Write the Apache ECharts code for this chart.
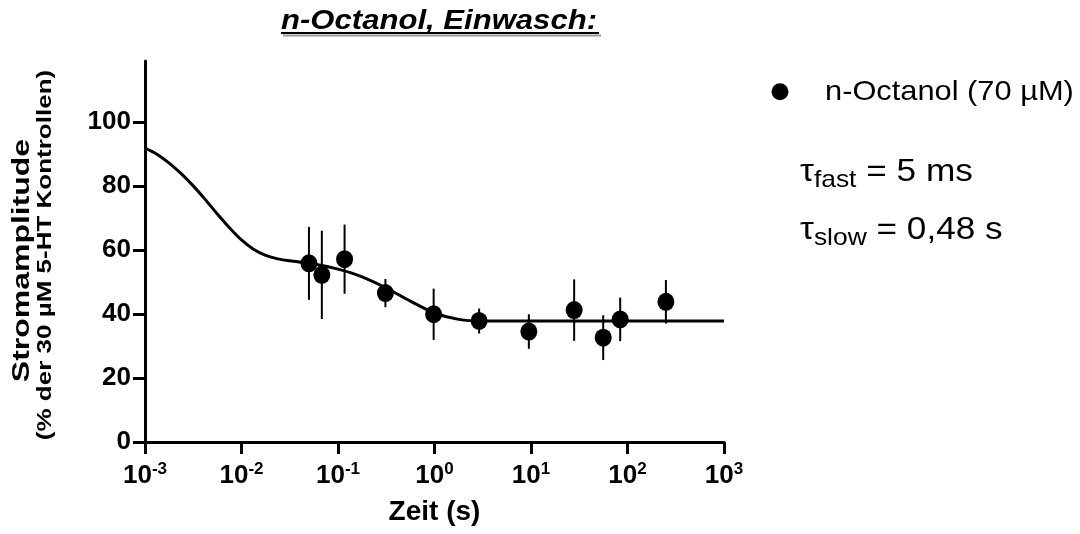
<!DOCTYPE html>
<html>
<head>
<meta charset="utf-8">
<script src="https://cdn.jsdelivr.net/npm/echarts@6/dist/echarts.min.js"></script>
<style>
  html, body { margin: 0; padding: 0; background: #fff; }
  #chart { width: 1080px; height: 534px; }
</style>
</head>
<body>
<div id="chart"></div>
<script>
// n-Octanol wash-in: normalized current amplitude (mean ± SEM) over time
const timeS     = [0.05, 0.068, 0.117, 0.31, 0.98, 2.9, 9.5, 28, 56, 84, 250];
const amplitude = [55.8, 52.2, 57.1, 46.5, 39.9, 37.8, 34.5, 41.2, 32.6, 38.3, 43.8];
const sem       = [11.4, 13.8, 10.8, 4.4, 8.0, 3.9, 5.4, 9.6, 7.0, 6.8, 6.8];

// Biexponential fit curve, sampled along the time axis
const fitTime  = [0.001, 0.00133, 0.00178, 0.00237, 0.00316, 0.00422, 0.00562, 0.0075, 0.01,
                  0.0133, 0.0178, 0.0237, 0.0316, 0.0562, 0.1, 0.178, 0.316, 0.562, 1,
                  1.78, 3.16, 10, 100, 1000];
const fitValue = [91.8, 89.9, 87.1, 83.8, 80.0, 75.7, 71.2, 66.9, 63.1,
                  60.2, 58.3, 57.2, 56.6, 55.6, 54.0, 51.6, 48.1, 44.0, 40.3,
                  38.3, 37.8, 37.8, 37.8, 37.8];

// Axis ticks
const yTicks = [0, 20, 40, 60, 80, 100];
const xMin = 0.001, xMax = 1000, yMin = 0, yMax = 119;

const FONT = '"Liberation Sans", Arial, Helvetica, sans-serif';

const chart = echarts.init(document.getElementById('chart'), null, { renderer: 'canvas' });

function txt(opts) {
  const s = Object.assign({
    fill: '#000',
    fontFamily: FONT,
    align: 'left', textAlign: 'left',
    verticalAlign: 'middle', textVerticalAlign: 'middle'
  }, opts.style);
  return {
    type: 'text', x: opts.x, y: opts.y,
    rotation: opts.rotation || 0,
    scaleX: opts.scaleX || 1, scaleY: opts.scaleY || 1,
    silent: true, style: s
  };
}

const tauRich = {
  t: { fontSize: 32, lineHeight: 40, fontFamily: FONT },
  s: { fontSize: 24, lineHeight: 20, verticalAlign: 'bottom', fontFamily: FONT },
  m: { fontSize: 32, lineHeight: 40, fontFamily: FONT }
};

const option = {
  animation: false,
  backgroundColor: '#fff',
  grid: {
    left: 145, right: 356, top: 61, bottom: 92,
    containLabel: false, outerBoundsMode: 'none'
  },
  xAxis: {
    type: 'log', logBase: 10, min: xMin, max: xMax,
    name: 'Zeit (s)', nameLocation: 'middle', nameGap: 56,
    nameTextStyle: { fontSize: 28, fontWeight: 'bold', color: '#000', fontFamily: FONT },
    axisLine: { show: true, onZero: false, lineStyle: { color: '#000', width: 3 } },
    axisTick: { show: true, length: 12, lineStyle: { color: '#000', width: 3 } },
    minorTick: { show: false },
    splitLine: { show: false },
    minorSplitLine: { show: false },
    axisLabel: {
      margin: 19, color: '#000', showMinLabel: true, showMaxLabel: true,
      formatter: v => '{b|10}{s|' + Math.round(Math.log10(v)) + '}',
      rich: {
        b: { fontSize: 26, fontWeight: 'bold', lineHeight: 29, color: '#000', fontFamily: FONT },
        s: { fontSize: 17, fontWeight: 'bold', lineHeight: 17, verticalAlign: 'top', color: '#000', fontFamily: FONT }
      }
    }
  },
  yAxis: {
    type: 'value', min: yMin, max: yMax,
    axisLine: { show: true, onZero: false, lineStyle: { color: '#000', width: 3 } },
    axisTick: { show: true, length: 12, lineStyle: { color: '#000', width: 3 }, customValues: yTicks },
    splitLine: { show: false },
    axisLabel: {
      margin: 14, color: '#000', fontSize: 26, fontWeight: 'bold', fontFamily: FONT,
      customValues: yTicks
    }
  },
  series: [
    {
      name: 'fit',
      type: 'line',
      data: fitTime.map((t, i) => [t, fitValue[i]]),
      showSymbol: false,
      smooth: 0.3,
      lineStyle: { color: '#000', width: 3 },
      z: 2, silent: true
    },
    {
      name: 'SEM',
      type: 'custom',
      data: timeS.map((t, i) => [t, amplitude[i] - sem[i], amplitude[i] + sem[i]]),
      renderItem: (params, api) => {
        const lo = api.coord([api.value(0), api.value(1)]);
        const hi = api.coord([api.value(0), api.value(2)]);
        return {
          type: 'line',
          shape: { x1: lo[0], y1: lo[1], x2: hi[0], y2: hi[1] },
          style: { stroke: '#000', lineWidth: 2 }
        };
      },
      z: 3, silent: true
    },
    {
      name: 'n-Octanol (70 µM)',
      type: 'scatter',
      data: timeS.map((t, i) => [t, amplitude[i]]),
      symbol: 'circle',
      symbolSize: [17, 18],
      itemStyle: { color: '#000', opacity: 1 },
      z: 4
    }
  ],
  graphic: [
    // title with shadowed underline
    { type: 'line', silent: true, shape: { x1: 283, y1: 35.5, x2: 601, y2: 35.5 }, style: { stroke: '#9a9a9a', lineWidth: 2 } },
    { type: 'line', silent: true, shape: { x1: 281, y1: 33, x2: 599, y2: 33 }, style: { stroke: '#000', lineWidth: 2 } },
    txt({ x: 281, y: 21.5, scaleX: 1.11,
          style: { text: 'n-Octanol, Einwasch:', fontSize: 28, fontWeight: 'bold', fontStyle: 'italic' } }),

    // y-axis title (two lines, rotated)
    txt({ x: 23, y: 260.5, rotation: Math.PI / 2, scaleX: 1.36,
          style: { text: 'Stromamplitude', fontSize: 23.5, fontWeight: 'bold', align: 'center', textAlign: 'center' } }),
    txt({ x: 45, y: 255, rotation: Math.PI / 2, scaleX: 1.3,
          style: { text: '(% der 30 µM 5-HT Kontrollen)', fontSize: 20, fontWeight: 'bold', align: 'center', textAlign: 'center' } }),

    // legend
    { type: 'circle', silent: true, shape: { cx: 780, cy: 91.7, r: 8.5 }, style: { fill: '#000' } },
    txt({ x: 825, y: 92.5, scaleX: 1.1, style: { text: 'n-Octanol (70 µM)', fontSize: 28 } }),

    // time constants of the fit
    txt({ x: 800, y: 172, scaleX: 1.1, style: { text: '{t|τ}{s|fast}{m| = 5 ms}', rich: tauRich } }),
    txt({ x: 800, y: 230.5, scaleX: 1.1, style: { text: '{t|τ}{s|slow}{m| = 0,48 s}', rich: tauRich } })
  ]
};

chart.setOption(option);
</script>
</body>
</html>
